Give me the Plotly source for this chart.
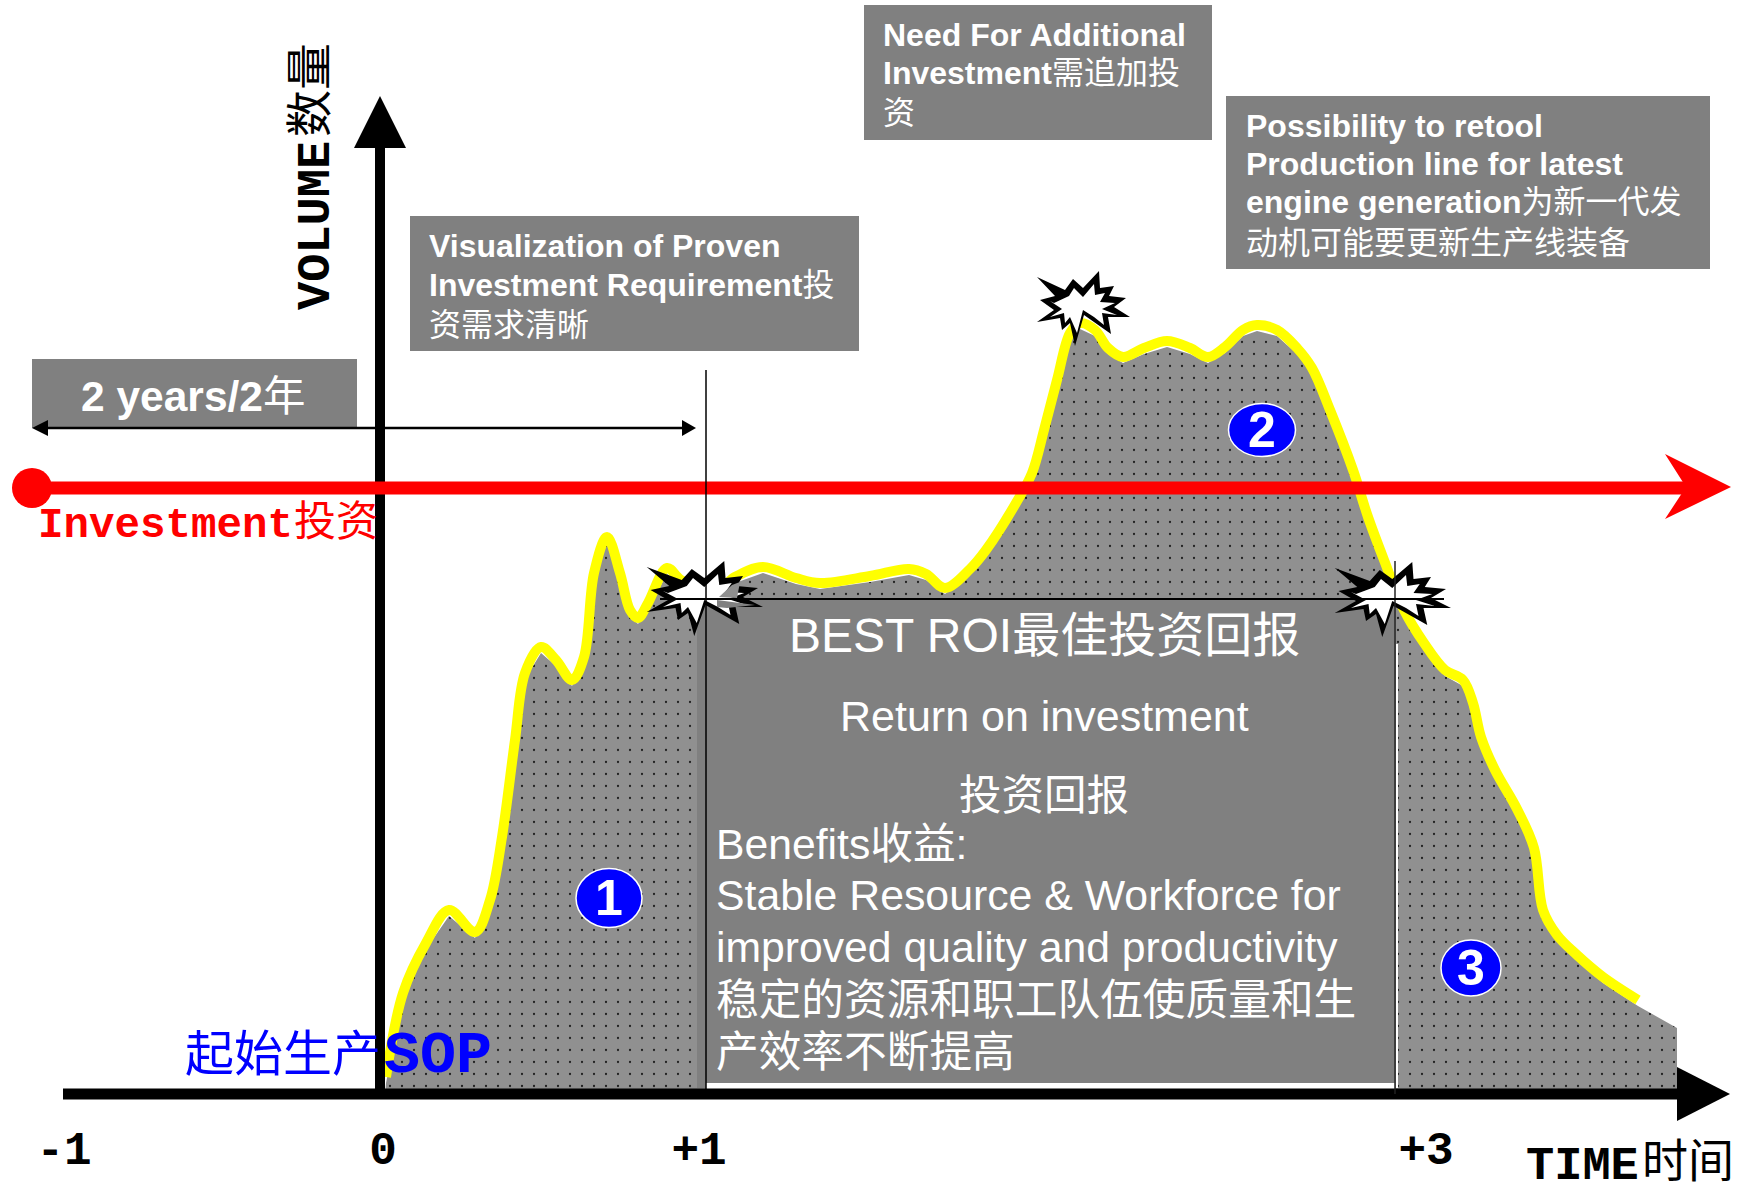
import plotly.graph_objects as go

W, H = 1749, 1183
BOX = "#808080"
SANS = "Liberation Sans, Noto Sans CJK SC"
MONO = "Liberation Mono, Noto Sans CJK SC"

# volume curve, time / volume in axis units
time_values = [6, 23, 46, 69, 95, 110, 122, 135, 145, 161, 176, 192, 204, 214, 227, 240, 250, 258, 268, 287,
               301, 334, 355, 383, 416, 440, 490, 529, 546, 565, 590, 606, 636, 652, 664, 677, 690, 700, 715,
               728, 743, 764, 787, 810, 828, 845, 863, 877, 897, 917, 932, 950, 973, 988, 1004, 1024, 1044,
               1065, 1083, 1093, 1101, 1115, 1137, 1154, 1163, 1177, 1197, 1223, 1258]
volume_values = [17, 101, 151, 184, 162, 194, 257, 354, 421, 447, 434, 414, 437, 521, 557, 521, 484, 476, 491, 526,
                 514, 501, 517, 527, 516, 511, 518, 525, 520, 506, 525, 544, 591, 621, 664, 714, 761, 771, 764,
                 746, 737, 746, 753, 746, 737, 747, 764, 769, 764, 746, 726, 684, 624, 577, 534, 484, 451,
                 424, 414, 391, 357, 324, 285, 246, 184, 159, 139, 117, 94]
shade_end_time = [1297, 1297]
shade_end_volume = [66, 0]
shade_start = (5, 0)

tick_values = [-316, 3, 319, 1046]
tick_labels = ["-1", "0", "+1", "+3"]

year_mark_1 = 326
year_mark_3 = 1015
roi_level = 495

burst_outer_dx = [-45, -17, -9, 1, 17, 18, 32, 27, 44, 32, 48, 26, 29, 13, 2, -7, -12, -20, -22, -45, -28, -42, -27]
burst_outer_dy = [28, 15, 26, 17, 34, 17, 19, 9, 7, -2, -12, -12, -29, -18, -10, -41, -18, -25, -13, -17, -5, 5, 9]
burst_inner_dx = [-28, -13, -8, 1, 12, 13, 23, 18, 33, 20, 35, 20, 22, 12, 1, -5, -12, -17, -18, -32, -20, -32]
burst_inner_dy = [2, 9, 17, 8, 21, 10, 12, 3, 2, -4, -10, -8, -20, -12, -5, -28, -12, -18, -8, -12, -4, 4]
burst_t = [702, 323, 1011]
burst_v = [789, 499, 498]
burst_xscale = [1.0, 1.25, 1.25]

badge_labels = ["1", "2", "3"]
badge_t = [229, 882, 1091]
badge_v = [196, 664, 126]
badge_w = [66, 67, 60]
badge_h = [59, 53, 56]

fig = go.Figure()


def poly(xs, ys, fill, line=None, lw=0):
    fig.add_trace(go.Scatter(x=xs + xs[:1], y=ys + ys[:1], mode="lines", fill="toself", fillcolor=fill,
                             line=dict(color=line or fill, width=lw), hoverinfo="skip", showlegend=False))


def seg(xs, ys, color, width, shape="linear"):
    fig.add_trace(go.Scatter(x=xs, y=ys, mode="lines", line=dict(color=color, width=width, shape=shape),
                             hoverinfo="skip", showlegend=False))


def rect(t0, t1, v0, v1, fill):
    poly([t0, t1, t1, t0], [v0, v0, v1, v1], fill)


# shaded area under the curve
fig.add_trace(go.Scatter(
    x=[shade_start[0]] + time_values + shade_end_time + [shade_start[0]],
    y=[shade_start[1]] + [v - 6 for v in volume_values] + shade_end_volume + [shade_start[1]],
    mode="lines", fill="toself", line=dict(width=0, color="#8f8f8f"),
    fillcolor="#8f8f8f",
    fillpattern=dict(shape=".", size=12, solidity=0.028, fgcolor="#222222", bgcolor="#909090", fillmode="replace"),
    hoverinfo="skip", showlegend=False))

# ROI box
rect(year_mark_1, year_mark_3, 0, 11, "#ffffff")
rect(317, 326, 6, roi_level, BOX)
rect(year_mark_1, year_mark_3 - 1, 11, roi_level, BOX)
seg([year_mark_3 + 2, year_mark_3 + 2], [6, 450], "#ffffff", 2)

# volume curve
seg(time_values, volume_values, "#ffff00", 10, "spline")

# callout boxes
rect(-348, -23, 666, 735, BOX)
rect(30, 479, 743, 878, BOX)
rect(484, 832, 954, 1089, BOX)
rect(846, 1330, 825, 998, BOX)

# axes drawn as heavy arrows
seg([-317, 1300], [0, 0], "#000000", 11)
poly([1297, 1350, 1297], [27, 0, -27], "#000000")
seg([0, 0], [0, 950], "#000000", 10)
poly([-26, 0, 26], [946, 998, 946], "#000000")

# 2 years arrow
seg([-340, 308], [666, 666], "#000000", 2.5)
poly([-348, -332, -332], [666, 674, 658], "#000000")
poly([316, 302, 302], [666, 674, 658], "#000000")

# investment arrow
seg([-348, 1310], [606, 606], "#ff0000", 13)
poly([1351, 1285, 1306, 1285], [607, 640, 607, 575], "#ff0000")
fig.add_trace(go.Scatter(x=[-348], y=[606], mode="markers", marker=dict(color="#ff0000", size=40),
                         hoverinfo="skip", showlegend=False))

# bursts: black star with a white centre; the background shows through part of the +1 burst
for i, (bt, bv, sx) in enumerate(zip(burst_t, burst_v, burst_xscale)):
    poly([bt + d * sx for d in burst_outer_dx], [bv + d for d in burst_outer_dy], "#000000")
    poly([bt + d * sx for d in burst_inner_dx], [bv + d for d in burst_inner_dy], "#ffffff")
    if i == 1:
        poly([339, 352, 360, 357], [497, 509, 512, 496], "#8f8f8f")
        poly([337, 375, 347, 337], [494, 489, 486, 487], BOX)

# thin guides
seg([year_mark_1, year_mark_1], [0, 724], "#000000", 1.5)
seg([year_mark_3, year_mark_3], [0, 533], "#222222", 1.5)
seg([280, 1064], [roi_level, roi_level], "#000000", 2)

# numbered badges
shapes = []
for t, v, w, h in zip(badge_t, badge_v, badge_w, badge_h):
    shapes.append(dict(type="circle", xref="x", yref="y", x0=t - w / 2, x1=t + w / 2, y0=v - h / 2, y1=v + h / 2,
                       fillcolor="#0000ff", line=dict(color="#ffffff", width=1.5), layer="above"))

annotations = []


def text(px, py, s, size, color="#ffffff", family=SANS, xanchor="left", angle=0):
    annotations.append(dict(xref="paper", yref="paper", x=px / W, y=1 - py / H, text=s, showarrow=False,
                            xanchor=xanchor, yanchor="middle", align=xanchor if xanchor != "middle" else "center",
                            textangle=angle, font=dict(size=size, color=color, family=family), borderpad=0))


for label, t, v in zip(badge_labels, badge_t, badge_v):
    text(t + 380, 1094 - v, f"<b>{label}</b>", 50, xanchor="center")

text(80, 397, "<b>2 years/2</b>年", 42.5)
text(428, 246, "<b>Visualization of Proven</b>", 32)
text(428, 285, "<b>Investment Requirement</b>投", 32)
text(428, 325, "资需求清晰", 32)
text(882, 35, "<b>Need For Additional</b>", 32)
text(882, 73, "<b>Investment</b>需追加投", 32)
text(882, 113, "资", 32)
text(1245, 126, "<b>Possibility to retool</b>", 32)
text(1245, 164, "<b>Production line for latest</b>", 32)
text(1245, 202, "<b>engine generation</b>为新一代发", 32)
text(1245, 243, "动机可能要更新生产线装备", 32)

text(1044, 635, "BEST ROI最佳投资回报", 48, xanchor="center")
text(1044, 716, "Return on investment", 43, xanchor="center")
text(1044, 795, "投资回报", 42.5, xanchor="center")
text(715, 844, "Benefits收益:", 42.7)
text(715, 895, "Stable Resource &amp; Workforce for", 42.8)
text(715, 947, "improved quality and productivity", 42.7)
text(715, 1000, "稳定的资源和职工队伍使质量和生", 42.7)
text(715, 1052, "产效率不断提高", 42.7)

text(37, 526, "<b>Investment</b>", 42.5, "#ff0000", MONO)
text(293, 521, "投资", 42, "#ff0000")
text(184, 1054, "起始生产", 49, "#0000ff")
text(383, 1056, "<b>SOP</b>", 60, "#0000ff", MONO)
text(1525, 1166, "<b>TIME</b>", 47, "#000000", MONO)
text(1641, 1161, "时间", 46, "#000000")
text(316, 226, "<b>VOLUME</b>", 47, "#000000", MONO, "center", -90)
text(310, 90, "数量", 47, "#000000", SANS, "center", -90)

fig.update_layout(
    width=W, height=H, margin=dict(l=0, r=0, t=0, b=0), paper_bgcolor="#ffffff", plot_bgcolor="#ffffff",
    showlegend=False, shapes=shapes, annotations=annotations,
    xaxis=dict(range=[-380, 1369], anchor="free", position=89 / 1183, showgrid=False, zeroline=False, showline=False,
               ticks="", tickmode="array", tickvals=tick_values, ticktext=tick_labels, ticklabelstandoff=23,
               tickfont=dict(family="Liberation Mono", size=46, color="#000000", weight="bold")),
    yaxis=dict(range=[-89, 1094], visible=False),
)

fig.write_html("out.html", post_script="document.body.style.margin='0';document.body.style.overflow='hidden';",
               config={"displayModeBar": False})
